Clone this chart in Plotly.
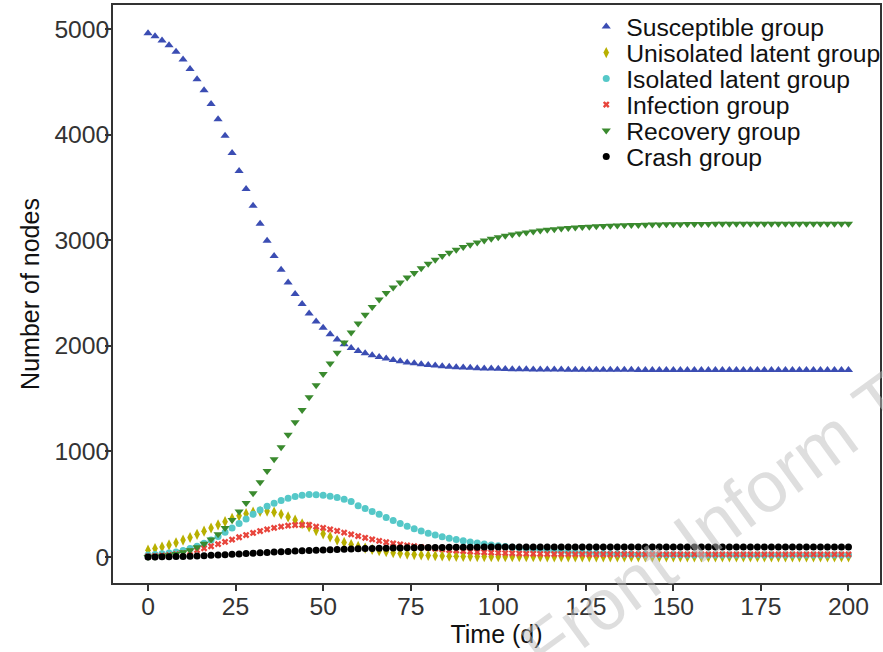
import plotly.graph_objects as go

# Time points (days), one marker every 2 days
time_d = list(range(0, 201, 2))

susceptible = [
    4960, 4930, 4890, 4845, 4785, 4710, 4620, 4525, 4420, 4290,
    4145, 3990, 3825, 3655, 3485, 3325, 3155, 2995, 2850, 2720,
    2600, 2490, 2395, 2305, 2230, 2170, 2110, 2060, 2015, 1980,
    1950, 1930, 1910, 1895, 1880, 1866, 1854, 1843, 1834, 1826,
    1819, 1813, 1807, 1802, 1798, 1794, 1791, 1788, 1786, 1784,
    1782, 1780, 1779, 1778, 1777, 1776, 1776, 1775, 1775, 1775,
    1774, 1774, 1774, 1774, 1773, 1773, 1773, 1773, 1773, 1773,
    1772, 1772, 1772, 1772, 1772, 1772, 1772, 1772, 1772, 1772,
    1772, 1772, 1772, 1772, 1772, 1772, 1772, 1772, 1772, 1772,
    1772, 1772, 1772, 1772, 1772, 1772, 1772, 1772, 1772, 1772,
    1772,
]

unisolated_latent = [
    65, 80, 95, 115, 135, 160, 185, 215, 245, 275,
    305, 335, 365, 390, 410, 425, 433, 435, 425, 405,
    380, 350, 315, 285, 250, 220, 190, 160, 138, 118,
    100, 85, 72, 60, 50, 41, 34, 28, 23, 19,
    15, 12, 10, 8, 7, 6, 5, 4, 4, 3,
    3, 3, 3, 3, 3, 3, 3, 2, 2, 2,
    2, 2, 2, 2, 2, 2, 2, 2, 2, 2,
    2, 2, 2, 2, 2, 2, 2, 2, 2, 2,
    2, 2, 2, 2, 2, 2, 2, 2, 2, 2,
    2, 2, 2, 2, 2, 2, 2, 2, 2, 2,
    2,
]

isolated_latent = [
    20, 24, 30, 38, 48, 62, 80, 102, 130, 160,
    195, 235, 275, 318, 360, 405, 445, 480, 510, 536,
    556, 573, 586, 592, 590, 585, 576, 563, 546, 526,
    485, 460, 432, 405, 375, 345, 318, 292, 268, 246,
    226, 208, 192, 178, 165, 153, 142, 132, 123, 115,
    107, 99, 92, 85, 78, 72, 66, 61, 56, 52,
    48, 44, 41, 38, 35, 33, 31, 29, 27, 26,
    25, 24, 23, 22, 22, 21, 21, 20, 20, 20,
    19, 19, 19, 19, 19, 18, 18, 18, 18, 18,
    18, 18, 18, 18, 18, 18, 18, 18, 18, 18,
    18,
]

infection = [
    5, 8, 12, 18, 26, 36, 50, 65, 83, 102,
    122, 143, 165, 187, 208, 228, 246, 262, 276, 288,
    297, 303, 305, 303, 288, 276, 262, 247, 231, 214,
    198, 182, 167, 153, 140, 129, 120, 110, 102, 94,
    86, 79, 72, 66, 61, 56, 52, 48, 45, 42,
    39, 37, 35, 33, 32, 31, 30, 29, 28, 28,
    27, 27, 27, 26, 26, 26, 26, 26, 26, 26,
    25, 25, 25, 25, 25, 25, 25, 25, 25, 25,
    25, 25, 25, 25, 25, 25, 25, 25, 25, 25,
    25, 25, 25, 25, 25, 25, 25, 25, 25, 25,
    25,
]

recovery = [
    0, 3, 8, 16, 28, 44, 65, 92, 125, 165,
    215, 275, 350, 430, 512, 603, 708, 815, 925, 1040,
    1157, 1277, 1392, 1513, 1626, 1733, 1833, 1935, 2032, 2125,
    2212, 2293, 2368, 2438, 2500, 2552, 2600, 2646, 2690, 2734,
    2776, 2814, 2850, 2882, 2910, 2935, 2958, 2978, 2997, 3013,
    3028, 3041, 3053, 3064, 3074, 3083, 3091, 3098, 3104, 3110,
    3115, 3120, 3124, 3128, 3131, 3134, 3137, 3139, 3141, 3143,
    3145, 3147, 3148, 3149, 3150, 3151, 3152, 3153, 3153, 3154,
    3154, 3155, 3155, 3155, 3155, 3155, 3155, 3155, 3155, 3155,
    3155, 3155, 3155, 3155, 3155, 3155, 3155, 3155, 3155, 3155,
    3155,
]

crash = [
    0, 1, 2, 3, 4, 6, 8, 10, 13, 16,
    19, 22, 26, 29, 33, 36, 40, 43, 47, 50,
    53, 56, 59, 62, 65, 67, 70, 72, 74, 76,
    78, 80, 81, 83, 84, 85, 86, 87, 88, 89,
    90, 90, 91, 92, 92, 93, 93, 93, 94, 94,
    94, 94, 95, 95, 95, 95, 95, 95, 95, 95,
    95, 95, 95, 96, 96, 96, 96, 96, 96, 96,
    96, 96, 96, 96, 96, 96, 96, 96, 96, 96,
    96, 96, 96, 96, 96, 96, 96, 96, 96, 96,
    96, 96, 96, 96, 96, 96, 96, 96, 96, 96,
    96,
]

series_names = ["Susceptible group", "Unisolated latent group", "Isolated latent group",
                "Infection group", "Recovery group", "Crash group"]
series_values = [susceptible, unisolated_latent, isolated_latent, infection, recovery, crash]
series_colors = ["#3B4DB3", "#B8B000", "#55C8C8", "#E8453C", "#3A8A2E", "#000000"]
series_symbols = ["triangle-up", "diamond-tall", "circle", "x", "triangle-down", "circle"]
series_sizes = [8, 8, 7, 6, 8, 7]

x_ticks = [0, 25, 50, 75, 100, 125, 150, 175, 200]
y_ticks = [0, 1000, 2000, 3000, 4000, 5000]

font_family = "Liberation Sans, Arial, sans-serif"

# one legend per entry so that row spacing can match the reference
legend_ids = ["legend", "legend2", "legend3", "legend4", "legend5", "legend6"]
legend_rows_y = [0.962, 0.917, 0.872, 0.827, 0.782, 0.737]

fig = go.Figure()
for name, vals, col, sym, sz, lid in zip(series_names, series_values, series_colors,
                                          series_symbols, series_sizes, legend_ids):
    fig.add_trace(go.Scatter(
        x=time_d, y=vals, mode="markers", name=name, legend=lid,
        marker=dict(symbol=sym, color=col, size=sz, line=dict(width=0)),
    ))

legend_layout = {}
for lid, ly in zip(legend_ids, legend_rows_y):
    legend_layout[lid] = dict(
        x=0.617, y=ly, xanchor="left", yanchor="middle",
        bgcolor="rgba(0,0,0,0)", borderwidth=0,
        font=dict(size=24.7, color="#111111", family=font_family),
        itemsizing="trace",
    )

fig.update_layout(
    width=883, height=652,
    margin=dict(l=113, r=3, t=5, b=69, autoexpand=False),
    paper_bgcolor="white", plot_bgcolor="white",
    font=dict(family=font_family, color="#333333", size=24),
    showlegend=True,
    xaxis=dict(
        range=[-10, 209], tickvals=x_ticks, ticks="outside", ticklen=6,
        tickcolor="#333333", tickwidth=1.5, automargin=False,
        ticklabelstandoff=-5,
        showgrid=False, zeroline=False, showline=True, linecolor="#333333",
        linewidth=1.5, mirror=True,
        title=dict(text="Time (d)", font=dict(size=25, color="#111111"), standoff=5),
        tickfont=dict(size=24.7, color="#333333"),
    ),
    yaxis=dict(
        range=[-246, 5227], tickvals=y_ticks, ticks="outside", ticklen=6,
        tickcolor="#333333", tickwidth=1.5, automargin=False,
        ticklabelstandoff=-9,
        showgrid=False, zeroline=False, showline=True, linecolor="#333333",
        linewidth=1.5, mirror=True,
        title=dict(text="Number of nodes", font=dict(size=25, color="#111111"), standoff=8),
        tickfont=dict(size=24.7, color="#333333"),
    ),
    **legend_layout,
)

# Watermark
fig.add_annotation(
    text="Front Inform T", xref="paper", yref="paper",
    x=0.784, y=0.104, xanchor="center", yanchor="middle",
    showarrow=False, textangle=-36,
    font=dict(size=72, color="rgba(190,190,190,0.5)", family=font_family),
)

fig.write_html("out.html", config={"displayModeBar": False},
               post_script="document.body.style.margin='0';")
